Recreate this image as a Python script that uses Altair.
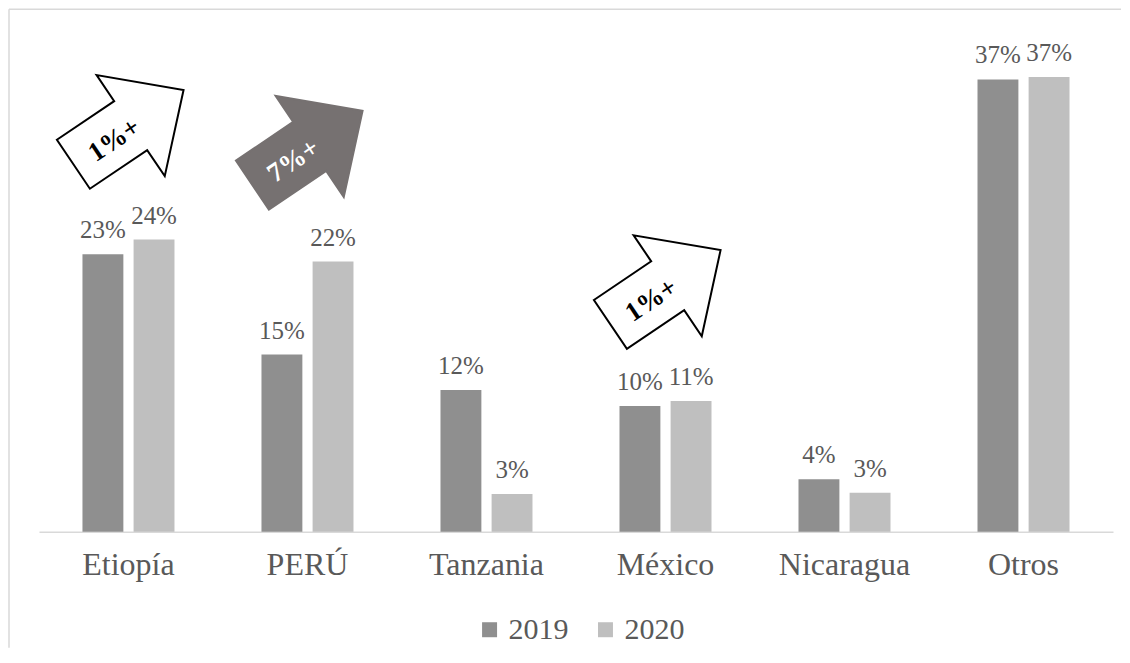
import altair as alt
import pandas as pd

categories = ["Etiopía", "PERÚ", "Tanzania", "México", "Nicaragua", "Otros"]
years = ["2019", "2020"]
values_2019 = [22.7, 14.5, 11.6, 10.3, 4.3, 37.0]
values_2020 = [23.9, 22.1, 3.1, 10.7, 3.2, 37.2]
labels_2019 = ["23%", "15%", "12%", "10%", "4%", "37%"]
labels_2020 = ["24%", "22%", "3%", "11%", "3%", "37%"]

arrow_cats = ["Etiopía", "PERÚ", "México"]
arrow_y = [33.1, 31.4, 20.0]
arrow_text = ["1%+", "7%+", "1%+"]
arrow_fill = ["#ffffff", "#767171", "#ffffff"]
arrow_stroke = ["#000000", "#767171", "#000000"]
arrow_textcolor = ["#000000", "#ffffff", "#000000"]

rows = []
for i, c in enumerate(categories):
    rows.append({"cat": c, "year": "2019", "v": values_2019[i], "lab": labels_2019[i]})
    rows.append({"cat": c, "year": "2020", "v": values_2020[i], "lab": labels_2020[i]})
df = pd.DataFrame(rows)

adf = pd.DataFrame({"cat": arrow_cats, "y": arrow_y, "t": arrow_text,
                    "fill": arrow_fill, "stroke": arrow_stroke, "tc": arrow_textcolor})

FONT = "'Times New Roman', 'Liberation Serif', Times, serif"
TXT = "#595959"
W, H = 1075, 514

xenc = alt.X("cat:N", sort=categories,
             scale=alt.Scale(paddingInner=0.486, paddingOuter=0.243),
             axis=alt.Axis(title=None, labelAngle=0, labelFont=FONT, labelFontSize=32,
                           labelColor=TXT, labelPadding=18, ticks=False,
                           domainColor="#d9d9d9", domainWidth=1.5, labelBaseline="top"))
yscale = alt.Scale(domain=[0, 42])
xoff = alt.XOffset("year:N", sort=years, scale=alt.Scale(paddingInner=0.2))

base = alt.Chart(df)

bars = base.mark_bar().encode(
    x=xenc,
    xOffset=xoff,
    y=alt.Y("v:Q", scale=yscale, axis=None),
    color=alt.Color("year:N", sort=years,
                    scale=alt.Scale(domain=years, range=["#8f8f8f", "#bfbfbf"]),
                    legend=alt.Legend(title=None, orient="none", direction="horizontal",
                                      legendX=436, legendY=597, symbolType="square",
                                      symbolSize=225, symbolStrokeWidth=0,
                                      labelFont=FONT, labelFontSize=30, labelColor=TXT,
                                      labelOffset=4, columnPadding=22, padding=0)),
)

texts = base.mark_text(font=FONT, fontSize=25, color=TXT, baseline="alphabetic", dy=-16).encode(
    x=alt.X("cat:N", sort=categories),
    xOffset=xoff,
    y=alt.Y("v:Q", scale=yscale),
    text="lab:N",
)

ARROW = "M-1,-0.444 L0.04,-0.444 L0.04,-0.917 L1,0 L0.04,0.917 L0.04,0.444 L-1,0.444 Z"
arrows = alt.Chart(adf).mark_point(shape=ARROW, filled=True, size=17689, angle=326,
                                   strokeWidth=2, opacity=1).encode(
    x=alt.X("cat:N", sort=categories),
    y=alt.Y("y:Q", scale=yscale),
    fill=alt.Fill("fill:N", scale=None),
    stroke=alt.Stroke("stroke:N", scale=None),
)
arrow_labels = alt.Chart(adf).mark_text(font=FONT, fontSize=27, fontWeight="bold", angle=326,
                                        dx=-19, dy=3, baseline="middle", align="center").encode(
    x=alt.X("cat:N", sort=categories),
    y=alt.Y("y:Q", scale=yscale),
    text="t:N",
    color=alt.Color("tc:N", scale=None),
)

frame_df = pd.DataFrame({"k": ["top"]})
top_rule = alt.Chart(frame_df).mark_rule(color="#d9d9d9", strokeWidth=1.5).encode(
    x=alt.value(-30), x2=alt.value(1083), y=alt.value(-9))
left_rule = alt.Chart(frame_df).mark_rule(color="#d9d9d9", strokeWidth=1.5).encode(
    x=alt.value(-30), y=alt.value(-9), y2=alt.value(630))

chart = alt.layer(top_rule, left_rule, bars, texts, arrows, arrow_labels).properties(
    width=W, height=H,
    padding={"left": 0, "top": 0, "right": 0, "bottom": 0},
).configure(background="#ffffff").configure_view(stroke=None)

chart.save("out.html", embed_options={"renderer": "svg", "actions": False})
